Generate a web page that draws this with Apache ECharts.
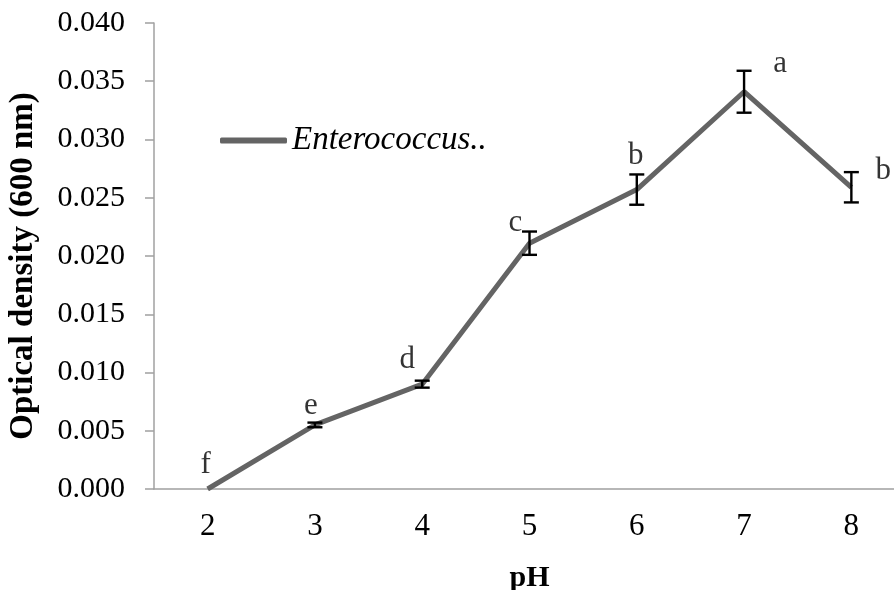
<!DOCTYPE html>
<html>
<head>
<meta charset="utf-8">
<script src="https://cdn.jsdelivr.net/npm/echarts@6/dist/echarts.min.js"></script>
<style>
  html, body { margin: 0; padding: 0; background: #fff; }
  #chart { width: 894px; height: 590px; }
</style>
</head>
<body>
<div id="chart"></div>
<script>
// Growth of Enterococcus across pH values (OD at 600 nm)
const phLevels = ['2', '3', '4', '5', '6', '7', '8'];
const odMeans = [0.0000, 0.0055, 0.0090, 0.0211, 0.0257, 0.0341, 0.0259];
const odErrors = [0.0000, 0.0002, 0.0003, 0.0010, 0.0013, 0.0018, 0.0013];
const groupLetters = ['f', 'e', 'd', 'c', 'b', 'a', 'b'];
const yTicks = { min: 0, max: 0.040, step: 0.005 };

// pixel offsets of each significance letter from its point
const letterOffsets = [[-2, -24], [-4, -19], [-15, -24], [-14, -20], [-1, -34], [36, -28], [32, -16]];

const serif = '"Liberation Serif", "Times New Roman", serif';
const lineColor = '#646464';
const axisColor = '#a0a0a0';

const chart = echarts.init(document.getElementById('chart'), null, { renderer: 'canvas' });

chart.setOption({
  animation: false,
  backgroundColor: '#fff',
  grid: { left: 154, top: 23, bottom: 101, width: 751, containLabel: false, outerBoundsMode: 'none' },
  legend: {
    left: 220, top: 124,
    padding: 0,
    icon: 'roundRect',
    itemWidth: 67, itemHeight: 6,
    data: [{ name: 'Enterococcus..', itemStyle: { color: lineColor } }],
    textStyle: { fontFamily: serif, fontStyle: 'italic', fontSize: 33, lineHeight: 33, color: '#000' }
  },
  xAxis: {
    type: 'category',
    data: phLevels,
    boundaryGap: true,
    name: 'pH',
    nameLocation: 'middle',
    nameGap: 74,
    nameTextStyle: { fontFamily: serif, fontWeight: 'bold', fontSize: 30, color: '#000' },
    axisLine: { lineStyle: { color: axisColor, width: 1.5 } },
    axisTick: { show: false },
    axisLabel: { fontFamily: serif, fontSize: 31, color: '#000', margin: 22 },
    splitLine: { show: false }
  },
  yAxis: {
    type: 'value',
    min: yTicks.min, max: yTicks.max, interval: yTicks.step,
    name: 'Optical density (600 nm)',
    nameLocation: 'middle',
    nameGap: 114,
    nameTextStyle: { fontFamily: serif, fontWeight: 'bold', fontSize: 33, color: '#000', padding: [0, 20, 0, 0] },
    axisLine: { show: true, lineStyle: { color: axisColor, width: 1.5 } },
    axisTick: { show: true, length: 9, lineStyle: { color: axisColor, width: 1.5 } },
    axisLabel: {
      fontFamily: serif, fontSize: 30, color: '#000', margin: 29,
      formatter: v => v.toFixed(3)
    },
    splitLine: { show: false }
  },
  series: [
    {
      name: 'Enterococcus..',
      type: 'line',
      data: odMeans,
      symbol: 'none',
      lineStyle: { color: lineColor, width: 5 },
      itemStyle: { color: lineColor },
      z: 3
    },
    {
      name: 'error',
      type: 'custom',
      data: odMeans.map((m, i) => [i, m, odErrors[i]]),
      renderItem: function (params, api) {
        const idx = api.value(0);
        const m = api.value(1);
        const e = api.value(2);
        if (e <= 0) return null;
        const top = api.coord([idx, m + e]);
        const bot = api.coord([idx, m - e]);
        const half = 7.5;
        const style = { stroke: '#000', lineWidth: 2.4 };
        return {
          type: 'group',
          children: [
            { type: 'line', shape: { x1: top[0], y1: top[1], x2: bot[0], y2: bot[1] }, style },
            { type: 'line', shape: { x1: top[0] - half, y1: top[1], x2: top[0] + half, y2: top[1] }, style },
            { type: 'line', shape: { x1: bot[0] - half, y1: bot[1], x2: bot[0] + half, y2: bot[1] }, style }
          ]
        };
      },
      z: 4
    },
    {
      name: 'letters',
      type: 'scatter',
      data: odMeans.map((m, i) => ({
        value: m,
        label: {
          formatter: groupLetters[i],
          position: [letterOffsets[i][0], letterOffsets[i][1]]
        }
      })),
      symbolSize: 0,
      itemStyle: { color: 'rgba(0,0,0,0)' },
      label: {
        show: true,
        align: 'center',
        verticalAlign: 'middle',
        fontFamily: serif,
        fontSize: 31,
        color: '#000'
      },
      labelLayout: { hideOverlap: false },
      silent: true,
      z: 5
    }
  ]
});
</script>
</body>
</html>
